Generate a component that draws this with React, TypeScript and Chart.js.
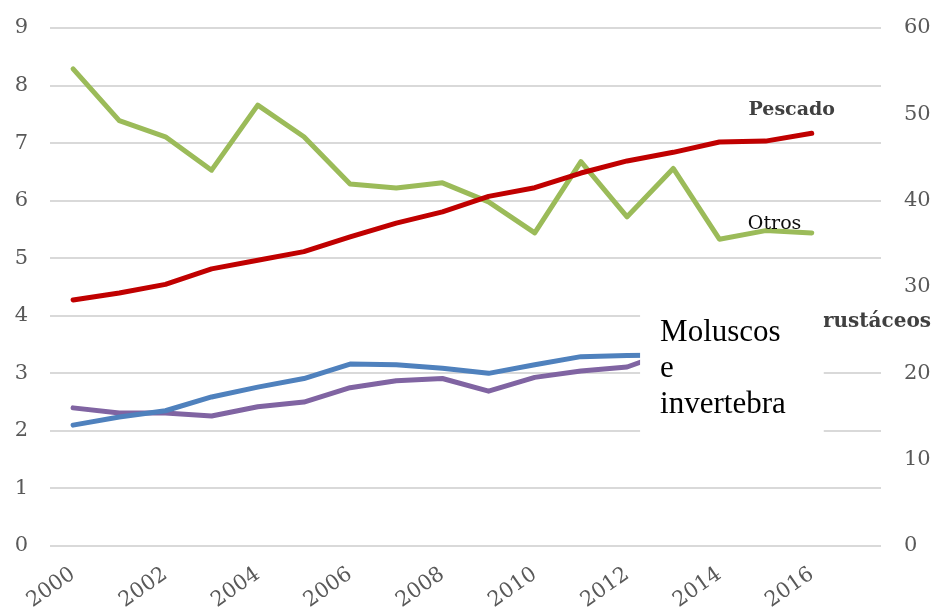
import React, { useEffect, useRef } from "react";
import { Chart, registerables } from "chart.js";

Chart.register(...registerables);

const years = ["2000","2001","2002","2003","2004","2005","2006","2007","2008","2009","2010","2011","2012","2013","2014","2015","2016","2017"];
const pescado = [28.5, 29.3, 30.3, 32.1, 33.1, 34.1, 35.8, 37.4, 38.7, 40.5, 41.5, 43.2, 44.6, 45.6, 46.8, 46.9, 47.8, null];
const otros = [8.29, 7.39, 7.11, 6.53, 7.66, 7.11, 6.29, 6.22, 6.31, 5.98, 5.44, 6.68, 5.72, 6.56, 5.33, 5.48, 5.44, null];
const crustaceos = [2.10, 2.24, 2.35, 2.59, 2.76, 2.91, 3.16, 3.15, 3.09, 3.00, 3.15, 3.29, 3.31, 3.32, 3.35, 3.38, 3.40, null];
const moluscos = [2.40, 2.31, 2.31, 2.26, 2.42, 2.50, 2.75, 2.87, 2.91, 2.69, 2.93, 3.04, 3.11, 3.40, 3.38, 3.42, 3.45, null];
const leftTicks = { min: 0, max: 9, step: 1 };
const rightTicks = { min: 0, max: 60, step: 10 };

const tickFont = { family: "'DejaVu Serif', serif", size: 21 };

const labelPlugin = {
  id: "seriesLabels",
  afterDatasetsDraw(chart: any) {
    const ctx = chart.ctx;
    const x = chart.scales.x;
    const yL = chart.scales.y;
    const yR = chart.scales.y1;
    const area = chart.chartArea;
    ctx.save();

    // Crustáceos label with white background
    ctx.font = "bold 20px 'DejaVu Serif', serif";
    ctx.textAlign = "right";
    ctx.textBaseline = "alphabetic";
    const cx = area.right + 50;
    const cy = yL.getPixelForValue(3.8);
    const cw = ctx.measureText("Crustáceos").width;
    ctx.fillStyle = "#ffffff";
    ctx.fillRect(cx - cw - 2, cy - 17, cw + 4, 23);
    ctx.fillStyle = "#404040";
    ctx.fillText("Crustáceos", cx, cy);

    // Moluscos e invertebrados data label box
    const bl = x.getPixelForValue(12) + 13;
    const br = x.getPixelForValue(16) + 12;
    const bt = yL.getPixelForValue(4.25);
    const bb = yL.getPixelForValue(1.75);
    ctx.fillStyle = "#ffffff";
    ctx.fillRect(bl, bt, br - bl, bb - bt);
    ctx.fillStyle = "#000000";
    ctx.font = "31px 'Liberation Serif', serif";
    ctx.textAlign = "left";
    const lines = ["Moluscos", "e", "invertebra"];
    lines.forEach((t, i) => ctx.fillText(t, bl + 20, bt + 40 + i * 36));

    // Pescado label
    ctx.font = "bold 19px 'DejaVu Serif', serif";
    ctx.fillStyle = "#404040";
    ctx.textAlign = "center";
    ctx.fillText("Pescado", x.getPixelForValue(16) - 20, yR.getPixelForValue(pescado[16] as number) - 18);

    // Otros label
    ctx.font = "19px 'DejaVu Serif', serif";
    ctx.fillStyle = "#0d0d0d";
    ctx.fillText("Otros", x.getPixelForValue(15) + 9, yL.getPixelForValue(otros[15] as number) - 2);

    ctx.restore();
  },
};

export default function App() {
  const ref = useRef<HTMLCanvasElement>(null);
  useEffect(() => {
    const common = {
      type: "line",
      borderWidth: 5,
      pointRadius: 0,
      pointHoverRadius: 0,
      tension: 0,
      fill: false,
      borderJoinStyle: "round",
      borderCapStyle: "round",
    };
    const noPad = (w: number) => (s: any) => { s.width = w; s.paddingTop = 0; s.paddingBottom = 0; };
    const chart = new Chart(ref.current as HTMLCanvasElement, {
      type: "line",
      data: {
        labels: years,
        datasets: [
          { ...common, label: "Pescado", data: pescado, borderColor: "#C00000", yAxisID: "y1" },
          { ...common, label: "Crustáceos", data: crustaceos, borderColor: "#4F81BD", yAxisID: "y" },
          { ...common, label: "Moluscos e invertebrados", data: moluscos, borderColor: "#8064A2", yAxisID: "y" },
          { ...common, label: "Otros", data: otros, borderColor: "#9BBB59", yAxisID: "y" },
        ] as any,
      },
      options: {
        animation: false,
        responsive: false,
        layout: { padding: { top: 28, left: 0, right: 0, bottom: 0 } },
        plugins: { legend: { display: false }, tooltip: { enabled: false } },
        scales: {
          x: {
            offset: true,
            grid: { display: false, drawTicks: false },
            border: { display: false },
            ticks: {
              autoSkip: false,
              minRotation: 35,
              maxRotation: 35,
              padding: 16,
              color: "#595959",
              font: tickFont,
              callback: (v: any, i: number) => (i % 2 === 0 ? years[i] : ""),
            },
            afterFit: (s: any) => { s.height = 62; },
          },
          y: {
            position: "left",
            min: leftTicks.min,
            max: leftTicks.max,
            grid: { color: "#d9d9d9", lineWidth: 2, drawTicks: false },
            border: { display: false },
            ticks: { stepSize: leftTicks.step, padding: 22, color: "#595959", font: tickFont },
            afterFit: noPad(50),
          },
          y1: {
            position: "right",
            min: rightTicks.min,
            max: rightTicks.max,
            grid: { display: false, drawTicks: false },
            border: { display: false },
            ticks: { stepSize: rightTicks.step, padding: 23, color: "#595959", font: tickFont },
            afterFit: noPad(53),
          },
        },
      } as any,
      plugins: [labelPlugin],
    });
    return () => chart.destroy();
  }, []);
  return (
    <div style={{ position: "fixed", left: 0, top: 0, width: 934, height: 608, background: "#fff" }}>
      <canvas ref={ref} width={934} height={608} />
    </div>
  );
}
